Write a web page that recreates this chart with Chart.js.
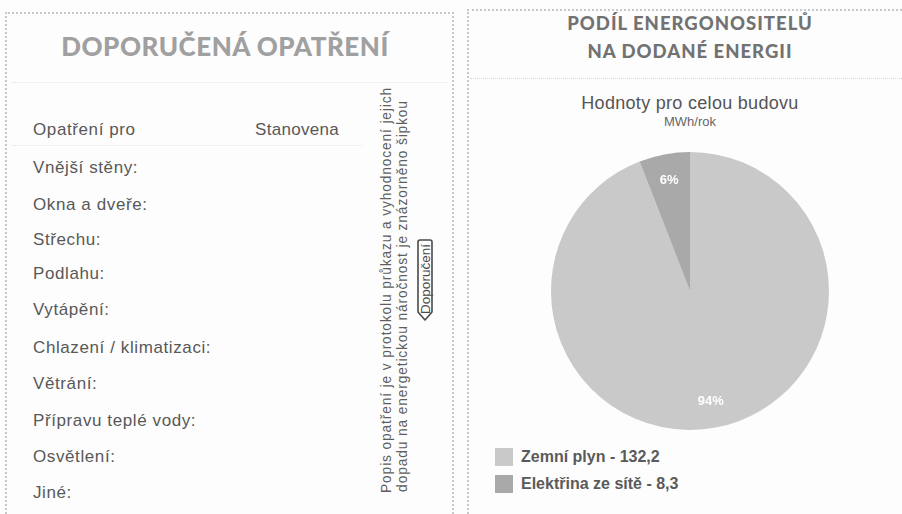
<!DOCTYPE html>
<html lang="cs">
<head>
<meta charset="utf-8">
<script src="https://cdn.jsdelivr.net/npm/chart.js@4/dist/chart.umd.min.js"></script>
<style>
  html, body { margin:0; padding:0; }
  body { width:902px; height:514px; background:#fdfdfd; position:relative; overflow:hidden;
         font-family:"Liberation Sans", Arial, sans-serif; color:#555; }
  .abs { position:absolute; }
  .vline { position:absolute; width:0; border-left:2px dotted #c8c8c8; }
  .hline { position:absolute; height:0; border-top:2px dotted #c8c8c8; }
  .faint { position:absolute; height:0; border-top:1px dotted #e4e4e4; }
  .title { font-family:"Lato", "DejaVu Sans", sans-serif; font-weight:900; white-space:nowrap;
           transform:translate(-50%,-50%); }
  .row { position:absolute; left:33px; font-size:17px; letter-spacing:0.6px; color:#585858; transform:translateY(-50%); white-space:nowrap; }
  .vtext { position:absolute; white-space:nowrap; font-size:13.8px; letter-spacing:0.85px; color:#5e5e5e;
           transform:translate(-50%,-50%) rotate(-90deg); }
  .leg { position:absolute; left:521px; font-size:16px; font-weight:bold; color:#5a5a5a; transform:translateY(-50%); white-space:nowrap; }
  .sw { position:absolute; left:495px; width:18px; height:18px; }
</style>
</head>
<body>
<!-- panel borders -->
<div class="vline" style="left:5px; top:12px; height:502px;"></div>
<div class="hline" style="left:5px; top:12px; width:449px;"></div>
<div class="vline" style="left:452px; top:12px; height:502px;"></div>
<div class="vline" style="left:467px; top:9px; height:505px;"></div>
<div class="hline" style="left:467px; top:9px; width:435px;"></div>

<!-- left panel -->
<div class="abs title" style="left:225px; top:46px; font-size:26px; letter-spacing:0.5px; color:#a0a0a0;">DOPORUČENÁ OPATŘENÍ</div>
<div class="faint" style="left:12px; top:82px; width:436px;"></div>
<div class="row" style="top:130px;">Opatření pro</div>
<div class="row" style="top:130px; left:255px; letter-spacing:0.3px;">Stanovena</div>
<div class="faint" style="left:12px; top:145px; width:350px;"></div>
<div id="rows"></div>

<div class="vtext" style="left:386px; top:290px;">Popis opatření je v protokolu průkazu a vyhodnocení jejich</div>
<div class="vtext" style="left:402px; top:296px;">dopadu na energetickou náročnost je znázorněno šipkou</div>
<svg class="abs" style="left:415px; top:238px;" width="20" height="86" viewBox="0 0 20 86">
  <path d="M3 4 Q3 2 5 2 L15 2 Q17 2 17 4 L17 74 L10 82 L3 74 Z" fill="none" stroke="#4a4a4a" stroke-width="1.6" stroke-linejoin="round"/>
  <text x="0" y="0" transform="translate(14.8,41) rotate(-90)" text-anchor="middle" font-family="Liberation Sans, Arial" font-size="13.5" fill="#4a4a4a">Doporučení</text>
</svg>

<!-- right panel -->
<div class="abs title" style="left:690px; top:23px; font-size:18.5px; letter-spacing:1px; color:#727272;">PODÍL ENERGONOSITELŮ</div>
<div class="abs title" style="left:690px; top:51px; font-size:18.5px; letter-spacing:1px; color:#727272;">NA DODANÉ ENERGII</div>
<div class="faint" style="left:470px; top:78px; width:432px; border-top-color:#d6d6d6;"></div>
<div class="abs" style="left:690px; top:103px; transform:translate(-50%,-50%); font-size:18px; letter-spacing:0.3px; color:#555; white-space:nowrap;">Hodnoty pro celou budovu</div>
<div class="abs" style="left:690px; top:121px; transform:translate(-50%,-50%); font-size:13px; color:#666; white-space:nowrap;">MWh/rok</div>

<div class="abs" style="left:551px; top:152px; width:278px; height:278px;">
  <canvas id="pie" width="278" height="278"></canvas>
</div>
<div id="legend"></div>

<script>
// ---- data ----
const measureRows = ['Vnější stěny:', 'Okna a dveře:', 'Střechu:', 'Podlahu:', 'Vytápění:',
  'Chlazení / klimatizaci:', 'Větrání:', 'Přípravu teplé vody:', 'Osvětlení:', 'Jiné:'];
const categories = ['Zemní plyn', 'Elektřina ze sítě'];
const values = [132.2, 8.3];
const colors = ['#c9c9c9', '#a9a9a9'];

// ---- table rows ----
const rowTops = [168, 205, 240, 274, 310, 348, 384, 421, 457, 493];
const rowsEl = document.getElementById('rows');
measureRows.forEach((t, i) => {
  const d = document.createElement('div');
  d.className = 'row'; d.style.top = rowTops[i] + 'px'; d.textContent = t;
  rowsEl.appendChild(d);
});

// ---- legend ----
const legEl = document.getElementById('legend');
categories.forEach((c, i) => {
  const y = 457 + i * 27;
  const sw = document.createElement('div');
  sw.className = 'sw'; sw.style.top = (y - 9) + 'px'; sw.style.background = colors[i];
  legEl.appendChild(sw);
  const t = document.createElement('div');
  t.className = 'leg'; t.style.top = y + 'px';
  t.textContent = c + ' - ' + values[i].toString().replace('.', ',');
  legEl.appendChild(t);
});

// ---- pie ----
const total = values.reduce((a, b) => a + b, 0);
const pctLabels = {
  id: 'pctLabels',
  afterDatasetsDraw(chart) {
    const ctx = chart.ctx;
    const meta = chart.getDatasetMeta(0);
    ctx.save();
    ctx.fillStyle = '#ffffff';
    ctx.font = 'bold 13px "Liberation Sans", Arial, sans-serif';
    ctx.textAlign = 'center'; ctx.textBaseline = 'middle';
    meta.data.forEach((arc, i) => {
      const mid = (arc.startAngle + arc.endAngle) / 2;
      const r = arc.outerRadius * 0.81;
      ctx.fillText(Math.round(values[i] / total * 100) + '%', arc.x + Math.cos(mid) * r, arc.y + Math.sin(mid) * r);
    });
    ctx.restore();
  }
};
new Chart(document.getElementById('pie'), {
  type: 'pie',
  data: { labels: categories, datasets: [{ data: values, backgroundColor: colors, borderWidth: 0 }] },
  options: {
    responsive: false, animation: false,
    layout: { padding: 0 },
    plugins: { legend: { display: false }, tooltip: { enabled: false } }
  },
  plugins: [pctLabels]
});
</script>
</body>
</html>
